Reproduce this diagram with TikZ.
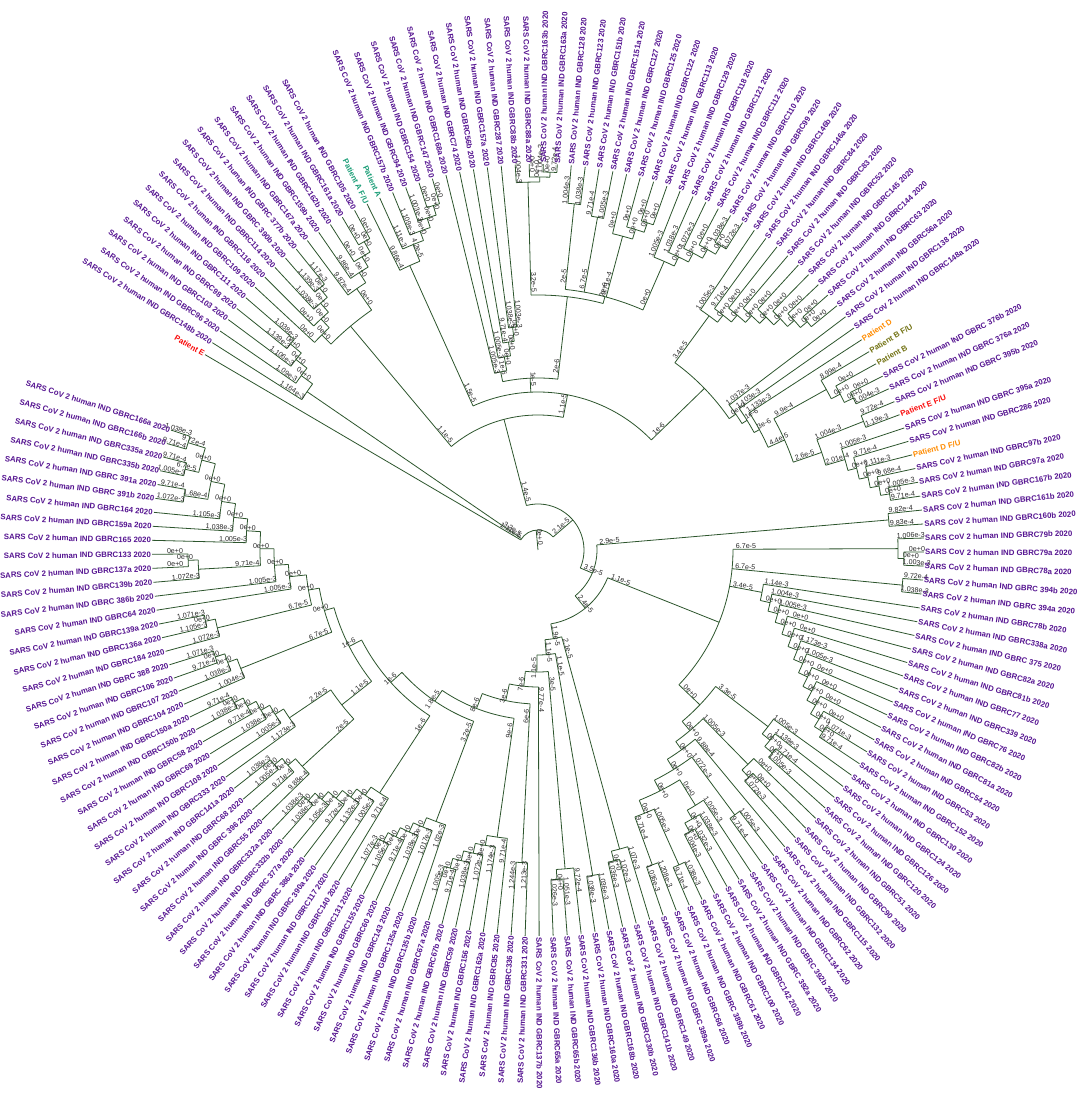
\documentclass[tikz,border=0pt]{standalone}
\usepackage{fontspec}
\setmainfont{Liberation Sans}
\definecolor{lc}{RGB}{85,20,145}
\definecolor{brc}{RGB}{45,85,45}
\definecolor{pe}{RGB}{250,10,10}
\definecolor{pa}{RGB}{27,158,119}
\definecolor{pd}{RGB}{255,140,0}
\definecolor{pb}{RGB}{115,115,20}
\pgfmathdeclarefunction{la}{1}{\pgfmathparse{149.6-(#1-1)*2.082}}
\def\Rt{386}
\def\rpos#1{\ifcsname cr@#1\endcsname\csname cr@#1\endcsname\else#1\fi}
\tikzset{
  br/.style={draw=brc,line width=0.8pt},
  lbl/.style={font=\bfseries\fontsize{7.8}{9}\selectfont,inner sep=1pt},
  bls/.style={font=\fontsize{7.1}{8}\selectfont,inner sep=0.4pt,text=black!85}
}
\newcommand\brl[3]{%
  \pgfmathsetmacro\bth{la(#2)}%
  \pgfmathsetmacro\bcs{cos(\bth)}%
  \pgfmathsetmacro\brr{#1+13}%
  \ifdim\bcs pt<0pt \pgfmathsetmacro\brot{\bth+180}\else\pgfmathsetmacro\brot{\bth}\fi
  \node[bls,rotate=\brot,anchor=south] at (\bth:\brr pt) {#3};}
\newcommand\tipb[2]{%
  \pgfmathsetmacro\tth{la(#2)}%
  \draw[br] (\tth:#1pt) -- (\tth:\Rt pt);
  \ifcsname tl@#2\endcsname\brl{#1}{#2}{\csname tl@#2\endcsname}\fi}
\newcommand\stem[4]{%
  \pgfmathsetmacro\sth{la(#3)}%
  \draw[br] (\sth:#1pt) -- (\sth:#2pt);
  \brl{#1}{#3}{#4}}
\newcommand\arcc[3]{%
  \pgfmathsetmacro\arA{la(#2)}\pgfmathsetmacro\arB{la(#3)}%
  \draw[br] (\arA:#1pt) arc[start angle=\arA, end angle=\arB, radius=#1pt];}
% node: name, rp, r, first child, last child, label
\newcommand\bnd[6]{%
  \edef\pA{\rpos{#4}}\edef\pB{\rpos{#5}}%
  \pgfmathsetmacro\pM{(\pA+\pB)/2}%
  \expandafter\xdef\csname cr@#1\endcsname{\pM}%
  \arcc{#3}{\pA}{\pB}%
  \stem{#2}{#3}{\pM}{#6}}
% caterpillar: name, rp, r0, dr, a, b, label (innermost leaf = a)
\newcommand\catL[7]{%
  \expandafter\xdef\csname cp@#1@#6\endcsname{#6}%
  \pgfmathtruncatemacro\cLk{#6-1}%
  \foreach \kq in {\cLk,...,#5}{%
    \pgfmathtruncatemacro\kn{\kq+1}%
    \edef\pn{\csname cp@#1@\kn\endcsname}%
    \pgfmathsetmacro\pp{(\kq+\pn)/2}%
    \expandafter\xdef\csname cp@#1@\kq\endcsname{\pp}%
  }%
  \expandafter\xdef\csname cr@#1\endcsname{\csname cp@#1@#5\endcsname}%
  \edef\pr{\csname cp@#1@#5\endcsname}%
  \stem{#2}{#3}{\pr}{#7}%
  \foreach \kq in {#5,...,\cLk}{%
    \pgfmathsetmacro\rk{#3+(\kq-#5)*#4}%
    \pgfmathtruncatemacro\kn{\kq+1}%
    \edef\pn{\csname cp@#1@\kn\endcsname}%
    \arcc{\rk}{\kq}{\pn}%
    \tipb{\rk}{\kq}%
    \ifnum\kn=#6\relax\tipb{\rk}{#6}%
    \else\pgfmathsetmacro\rkn{\rk+#4}\stem{\rk}{\rkn}{\pn}{0e+0}\fi
  }}
\newcommand\lab[3][lc]{%
  \pgfmathsetmacro\lth{la(#2)}\pgfmathsetmacro\lcs{cos(\lth)}%
  \ifdim\lcs pt<0pt
    \node[lbl,text=#1,anchor=east,rotate=\lth+180] (l#2) at (\lth:\Rt pt) {#3};%
  \else
    \node[lbl,text=#1,anchor=west,rotate=\lth] (l#2) at (\lth:\Rt pt) {#3};%
  \fi}
\newcommand\gl[2]{\lab{#1}{SARS CoV 2 human IND #2 2020}}
\foreach \lx/\nm in {1/1.11e-5,2/1.164e-3,3/1.09e-3,4/1.106e-3,5/1.139e-3,6/1.038e-3,7/0e+0,8/0e+0,9/1.038e-3,10/1.139e-3,11/1.17e-3,12/9.87e-4,13/9.86e-4,14/0e+0,15/0e+0,16/0e+0,17/9.86e-4,18/1.11e-3,19/1.109e-3,20/1.003e-3,21/0e+0,22/0e+0,23/1.005e-3,24/1.005e-3,25/9.71e-4,26/1.038e-3,27/1.003e-3,28/1.004e-3,29/0e+0,30/1.004e-3,31/9.72e-4,32/1.004e-3,33/1.038e-3,34/9.71e-4,35/1.005e-3,36/0e+0,37/0e+0,38/0e+0,39/0e+0,40/1.005e-3,41/1.038e-3,42/1.072e-3,43/0e+0,44/1.038e-3,45/1.072e-3,46/1.005e-3,47/9.71e-4,48/0e+0,49/0e+0,50/0e+0,51/0e+0,52/0e+0,53/0e+0,54/0e+0,55/1.037e-3,56/1.103e-3,57/1.133e-3,58/8.99e-4,59/0e+0,60/0e+0,61/1.004e-3,62/9.72e-4,63/1.19e-3,64/1.005e-3,65/9.71e-4,66/1.111e-3,67/9.68e-4,68/1.005e-3,69/9.71e-4,70/9.82e-4,71/9.83e-4,72/1.006e-3,73/0e+0,74/1.003e-3,75/9.72e-4,76/1.038e-3,77/1.14e-3,78/1.004e-3,79/1.005e-3,80/0e+0,81/0e+0,82/1.173e-3,83/1.005e-3,84/0e+0,85/0e+0,86/0e+0,87/0e+0,88/1.071e-3,89/9.71e-4,90/1.005e-3,91/1.139e-3,92/9.71e-4,93/1.005e-3,94/0e+0,95/0e+0,96/1.072e-3,97/9.88e-4,98/1.005e-3,99/9.71e-4,100/1.005e-3,101/1.038e-3,102/1.032e-3,103/1.004e-3,104/1.038e-3,105/9.71e-4,106/1.208e-3,107/1.036e-3,108/1.07e-3,109/1.02e-3,110/1.036e-3,111/1.036e-3,112/1.038e-3,113/9.72e-4,114/1.051e-3,115/1.026e-3,116/9.77e-4,117/1.213e-3,118/1.244e-3,119/9.71e-4,120/1.174e-3,121/1.072e-3,122/1.038e-3,123/9.71e-4,124/1.005e-3,125/1.02e-3,126/1.017e-3,127/1.038e-3,128/9.71e-4,129/1.105e-3,130/1.077e-3,131/9.71e-4,132/1.005e-3,133/1.132e-3,134/9.72e-4,135/1.05e-3,136/1.038e-3,137/1.038e-3,138/9.88e-4,139/9.71e-4,140/1.005e-3,141/1.038e-3,142/1.173e-3,143/1.005e-3,144/1.038e-3,145/9.71e-4,146/1.038e-3,147/9.71e-4,148/1.004e-3,149/1.038e-3,150/9.71e-4,151/1.071e-3,152/1.072e-3,153/1.105e-3,154/1.071e-3,155/1.005e-3,156/1.005e-3,157/1.072e-3,158/0e+0,159/0e+0,160/1.005e-3,161/1.038e-3,162/1.105e-3,163/1.072e-3,164/9.71e-4,165/1.005e-3,166/9.71e-4,167/9.71e-4,168/1.038e-3}{\expandafter\xdef\csname tl@\lx\endcsname{\nm}}
\begin{document}
\begin{tikzpicture}
\useasboundingbox[fill=white] (-538pt,-552pt) rectangle (546pt,550pt);
% ---- top-left
\catL{c1}{20}{280}{14}{2}{6}{3.2e-5}
\catL{c2a}{292}{305}{12}{7}{11}{0e+0}
\catL{c2b}{292}{318}{12}{12}{16}{0e+0}
\bnd{x2}{135}{292}{c2a}{c2b}{1.1e-5}
\catL{c3b}{312}{330}{10}{18}{22}{4.2e-5}
\tipb{312}{17}
\bnd{x3}{158}{312}{17}{c3b}{1.5e-5}
% ---- top
\catL{c4a}{172}{182}{14}{23}{27}{1e-6}
\catL{c4b}{255}{368}{5}{28}{31}{3.2e-5}
\catL{c4c}{262}{348}{6}{32}{33}{2e-5}
\catL{c4d}{262}{338}{6}{34}{35}{6.7e-5}
\catL{c4e}{262}{325}{10}{36}{39}{9.71e-4}
\catL{c4f}{262}{315}{10}{40}{45}{0e+0}
\bnd{x4c}{255}{262}{c4c}{c4f}{2e-6}
\bnd{x4b}{172}{255}{c4b}{x4c}{2e-6}
\bnd{x4}{158}{172}{c4a}{x4b}{1e-5}
% ---- top-right
\catL{c5a}{232}{290}{9}{46}{54}{3.4e-5}
\catL{c5b}{270}{330}{10}{58}{61}{9.9e-4}
\catL{c5c}{300}{350}{8}{62}{63}{1.004e-3}
\catL{c5d}{300}{320}{9}{64}{69}{2.01e-4}
\bnd{n56}{270}{300}{c5c}{c5d}{2.6e-5}
\bnd{n55}{252}{270}{c5b}{n56}{4.4e-5}
\tipb{252}{57}
\bnd{n54}{246}{252}{57}{n55}{3e-6}
\tipb{246}{56}
\bnd{n53}{240}{246}{56}{n54}{1e-6}
\tipb{240}{55}
\bnd{n52}{232}{240}{55}{n53}{0e+0}
\bnd{n51}{158}{232}{c5a}{n52}{1e-6}
\bnd{n3}{135}{158}{x3}{n51}{1.1e-5}
\bnd{n2}{46}{135}{x2}{n3}{1.4e-5}
% ---- right
\catL{c6}{59}{352}{8}{70}{71}{2.9e-5}
\catL{g1}{195}{360}{6}{72}{74}{6.7e-5}
\catL{g2}{195}{366}{6}{75}{76}{6.7e-5}
\catL{g3}{195}{228}{10}{77}{89}{3.4e-5}
\catL{h6}{284}{345}{8}{104}{105}{1.005e-3}
\catL{h7}{284}{335}{8}{106}{107}{9.71e-4}
\bnd{s6r}{270}{284}{h6}{h7}{0e+0}
\catL{h5}{270}{300}{10}{100}{103}{0e+0}
\bnd{s5r}{258}{270}{h5}{s6r}{0e+0}
\catL{h4}{258}{330}{8}{98}{99}{1.072e-3}
\bnd{s4r}{246}{258}{h4}{s5r}{0e+0}
\tipb{246}{97}
\bnd{s3r}{236}{246}{97}{s4r}{0e+0}
\catL{h2}{236}{300}{10}{94}{96}{1.005e-3}
\bnd{s2r}{224}{236}{h2}{s3r}{0e+0}
\catL{h1}{224}{290}{10}{90}{93}{3.3e-5}
\bnd{s1r}{195}{224}{h1}{s2r}{0e+0}
\bnd{x7}{75}{195}{g1}{s1r}{1.1e-5}
% ---- bottom and left spine
\catL{s1}{90}{310}{10}{108}{110}{2.1e-5}
\catL{s2}{105}{330}{8}{111}{112}{1.1e-5}
\catL{s3}{122}{320}{10}{113}{115}{3e-5}
\tipb{137}{116}
\catL{s5}{154}{313}{10}{117}{118}{6e-6}
\catL{s6}{170}{290}{10}{119}{124}{9e-6}
\catL{s7}{183}{290}{10}{125}{130}{3.2e-5}
\catL{s8}{198}{290}{10}{131}{137}{1e-6}
\catL{s9a}{250}{320}{10}{138}{141}{2e-5}
\catL{s9b}{250}{300}{10}{142}{147}{2.2e-5}
\bnd{s9}{212}{250}{s9a}{s9b}{1.1e-5}
\catL{s10}{222}{320}{10}{148}{151}{6.7e-5}
\catL{s11}{233}{330}{10}{152}{154}{6.7e-5}
\catL{t19a}{348}{362}{8}{165}{166}{6.7e-5}
\catL{t19b}{348}{366}{8}{167}{168}{9.72e-4}
\bnd{L19}{334}{348}{t19a}{t19b}{0e+0}
\catL{t18}{334}{358}{8}{163}{164}{1.68e-4}
\bnd{L18}{320}{334}{t18}{L19}{0e+0}
\tipb{320}{162}
\bnd{L17}{306}{320}{162}{L18}{0e+0}
\tipb{306}{161}
\bnd{L16}{292}{306}{161}{L17}{0e+0}
\tipb{292}{160}
\bnd{L15}{278}{292}{160}{L16}{0e+0}
\catL{t14}{278}{340}{10}{157}{159}{9.71e-4}
\bnd{L14}{264}{278}{t14}{L15}{0e+0}
\tipb{264}{156}
\bnd{L13}{250}{264}{156}{L14}{0e+0}
\tipb{250}{155}
\bnd{L12}{233}{250}{155}{L13}{0e+0}
\bnd{L11}{222}{233}{s11}{L12}{0e+0}
\bnd{L10}{212}{222}{s10}{L11}{0e+0}
\bnd{L9}{198}{212}{s9}{L10}{1e-6}
\bnd{L8}{183}{198}{s8}{L9}{1e-6}
\bnd{L7}{170}{183}{s7}{L8}{1.8e-5}
\bnd{L6}{154}{170}{s6}{L7}{8e-6}
\bnd{L5}{137}{154}{s5}{L6}{3e-6}
\bnd{L4}{122}{137}{116}{L5}{7e-6}
\bnd{L3}{105}{122}{s3}{L4}{1.1e-5}
\bnd{L2}{90}{105}{s2}{L3}{1.1e-5}
\bnd{L1}{75}{90}{s1}{L2}{1.9e-5}
\bnd{n5}{59}{75}{x7}{L1}{2.4e-5}
\bnd{n4}{46}{59}{c6}{n5}{3.5e-5}
\bnd{n1}{20}{46}{n2}{n4}{2.1e-5}
\tipb{20}{1}
\bnd{root}{0}{20}{1}{n1}{0e+0}
% ---- leaf labels
\lab[pe]{1}{Patient E}
\lab[pa]{17}{Patient A F/U}
\lab[pa]{18}{Patient A}
\lab[pd]{57}{Patient D}
\lab[pb]{58}{Patient B F/U}
\lab[pb]{59}{Patient B}
\lab[pe]{63}{Patient E F/U}
\lab[pd]{66}{Patient D F/U}
\foreach \lx/\nm in {2/GBRC148b,3/GBRC96,4/GBRC103,5/GBRC98,6/GBRC111,7/GBRC109,8/GBRC116,9/GBRC114,10/GBRC 390b,11/GBRC 377b,12/GBRC167a,13/GBRC159b,14/GBRC162b,15/GBRC161a,16/GBRC105,19/GBRC157b,20/GBRC94,21/GBRC154,22/GBRC147,23/GBRC168a,24/GBRC74,25/GBRC56b,26/GBRC157a,27/GBRC287,28/GBRC88b,29/GBRC88a,30/GBRC163b,31/GBRC163a,32/GBRC128,33/GBRC123,34/GBRC151b,35/GBRC151a,36/GBRC127,37/GBRC125,38/GBRC122,39/GBRC113,40/GBRC129,41/GBRC118,42/GBRC121,43/GBRC112,44/GBRC110,45/GBRC99,46/GBRC146b,47/GBRC146a,48/GBRC84,49/GBRC83,50/GBRC52,51/GBRC145,52/GBRC144,53/GBRC63,54/GBRC56a,55/GBRC138,56/GBRC148a,60/GBRC 376b,61/GBRC 376a,62/GBRC 395b,64/GBRC 395a,65/GBRC286,67/GBRC97b,68/GBRC97a,69/GBRC167b,70/GBRC161b,71/GBRC160b,72/GBRC79b,73/GBRC79a,74/GBRC78a,75/GBRC 394b,76/GBRC 394a,77/GBRC78b,78/GBRC338a,79/GBRC 375,80/GBRC82a,81/GBRC81b,82/GBRC77,83/GBRC339,84/GBRC76,85/GBRC82b,86/GBRC81a,87/GBRC54,88/GBRC53,89/GBRC152,90/GBRC130,91/GBRC124,92/GBRC126,93/GBRC120,94/GBRC51,95/GBRC90,96/GBRC132,97/GBRC115,98/GBRC62,99/GBRC134,100/GBRC 392b,101/GBRC 392a,102/GBRC142,103/GBRC100,104/GBRC61,105/GBRC 389b,106/GBRC66,107/GBRC 389a,108/GBRC149,109/GBRC141b,110/GBRC330b,111/GBRC168b,112/GBRC160a,113/GBRC136b,114/GBRC65b,115/GBRC65a,116/GBRC137b,117/GBRC331,118/GBRC336,119/GBRC85,120/GBRC162a,121/GBRC156,122/GBRC59,123/GBRC67b,124/GBRC67a,125/GBRC135b,126/GBRC135a,127/GBRC143,128/GBRC60,129/GBRC155,130/GBRC131,131/GBRC140,132/GBRC117,133/GBRC 390a,134/GBRC 386a,135/GBRC 377a,136/GBRC332b,137/GBRC332a,138/GBRC55,139/GBRC 396,140/GBRC68,141/GBRC141a,142/GBRC333,143/GBRC108,144/GBRC69,145/GBRC58,146/GBRC150b,147/GBRC150a,148/GBRC104,149/GBRC107,150/GBRC106,151/GBRC 388,152/GBRC184,153/GBRC136a,154/GBRC139a,155/GBRC64,156/GBRC 386b,157/GBRC139b,158/GBRC137a,159/GBRC133,160/GBRC165,161/GBRC159a,162/GBRC164,163/GBRC 391b,164/GBRC 391a,165/GBRC335b,166/GBRC335a,167/GBRC166b,168/GBRC166a}{\gl{\lx}{\nm}}
\end{tikzpicture}
\end{document}
